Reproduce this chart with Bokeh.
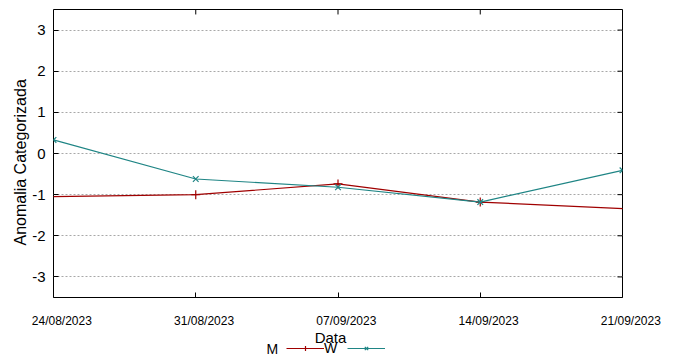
import pandas as pd
from bokeh.plotting import figure
from bokeh.layouts import column
from bokeh.models import (FixedTicker, DatetimeTickFormatter, Range1d, Legend,
                          LegendItem, Label)
from bokeh.embed import file_html
from bokeh.resources import INLINE

# ---- data ----
tick_dates = ["2023-08-24", "2023-08-31", "2023-09-07", "2023-09-14", "2023-09-21"]
m_dates = ["2023-08-17", "2023-08-31", "2023-09-07", "2023-09-14", "2023-09-28"]
m_values = [-1.10, -1.00, -0.74, -1.18, -1.50]
w_dates = ["2023-08-24", "2023-08-31", "2023-09-07", "2023-09-14", "2023-09-21"]
w_values = [0.33, -0.62, -0.82, -1.18, -0.41]
y_ticks = [-3, -2, -1, 0, 1, 2, 3]
y_min, y_max = -3.5, 3.5
series_names = ["M", "W"]
x_title = "Data"
y_title = "Anomalia Categorizada"

RED = "#a00000"
TEAL = "#1f8585"
FONT = "Liberation Sans"

tick_dt = pd.to_datetime(tick_dates)
tick_ms = [int(t.value // 10**6) for t in tick_dt]
x_start, x_end = tick_ms[0], tick_ms[-1]
NB = "\u00a0"
x_overrides = {ms: NB * 5 + d.strftime("%d/%m/%Y") for ms, d in zip(tick_ms, tick_dt)}
y_overrides = {t: str(t) for t in y_ticks}

W = 678
H1, H2 = 330, 29
FL, FR, FT, FB = 53, 56, 9, 31
p = figure(width=W, height=H1, x_axis_type="datetime",
           x_range=Range1d(x_start, x_end), y_range=Range1d(y_min, y_max),
           output_backend="svg", toolbar_location=None,
           min_border_left=FL, min_border_right=FR, min_border_top=FT, min_border_bottom=FB)

p.outline_line_color = "black"
p.outline_line_width = 1
p.background_fill_color = "white"
p.border_fill_color = "white"

xt = FixedTicker(ticks=tick_ms)
yt = FixedTicker(ticks=y_ticks)

xa = p.xaxis[0]
xa.ticker = xt
xa.formatter = DatetimeTickFormatter(days="%d/%m/%Y", months="%d/%m/%Y", hours="%d/%m/%Y")
xa.major_label_overrides = x_overrides
xa.major_tick_in = 5
xa.major_tick_out = 0
xa.minor_tick_line_color = None
xa.axis_line_color = None
xa.major_tick_line_color = "black"
xa.major_label_text_font = FONT
xa.major_label_text_font_size = "12px"
xa.major_label_text_color = "black"
xa.major_label_standoff = 16

ya = p.yaxis[0]
ya.ticker = yt
ya.major_label_overrides = y_overrides
ya.major_tick_in = 5
ya.major_tick_out = 0
ya.minor_tick_line_color = None
ya.axis_line_color = None
ya.major_tick_line_color = "black"
ya.major_label_text_font = FONT
ya.major_label_text_font_size = "15px"
ya.major_label_text_color = "black"
ya.major_label_standoff = 8
ya.axis_label = y_title + NB * 4
ya.axis_label_text_font = FONT
ya.axis_label_text_font_size = "16px"
ya.axis_label_text_font_style = "normal"
ya.axis_label_text_color = "black"
ya.axis_label_standoff = 0

p.xgrid.grid_line_color = None
p.ygrid.ticker = yt
p.ygrid.grid_line_color = "#a8a8a8"
p.ygrid.grid_line_dash = "2 2"
p.ygrid.grid_line_width = 1

# mirrored ticks on top and right border (gnuplot style)
frame_w = W - FL - FR
frame_h = H1 - FT - FB
tick_px = 5
dx = tick_px * (x_end - x_start) / frame_w
dy = tick_px * (y_max - y_min) / frame_h
p.segment(x0=tick_ms, y0=[y_max] * len(tick_ms), x1=tick_ms, y1=[y_max - dy] * len(tick_ms),
          line_color="black", line_width=1)
p.segment(x0=[x_end] * len(y_ticks), y0=y_ticks, x1=[x_end - dx] * len(y_ticks), y1=y_ticks,
          line_color="black", line_width=1)

md = pd.to_datetime(m_dates)
wd = pd.to_datetime(w_dates)
p.line(md, m_values, line_color=RED, line_width=1.2)
p.scatter(md, m_values, marker="cross", size=9, line_color=RED, line_width=1.2)
p.line(wd, w_values, line_color=TEAL, line_width=1.2)
p.scatter(wd, w_values, marker="x", size=8, line_color=TEAL, line_width=1.2)

# ---- bottom row: x title and key (gnuplot style: "M" —+—  "W" —x—) ----
k = figure(width=W, height=H2, x_range=Range1d(0, 1), y_range=Range1d(0, 1),
           output_backend="svg", toolbar_location=None,
           x_axis_location=None, y_axis_location=None,
           min_border_left=0, min_border_right=0, min_border_top=0, min_border_bottom=0)
k.outline_line_color = None
k.xgrid.visible = False
k.ygrid.visible = False
k.background_fill_color = "white"
k.border_fill_color = "white"
# same series, lying outside this row's ranges: only their key glyphs are seen
kr1 = k.line(md, m_values, line_color=RED, line_width=1.2)
kr2 = k.scatter(md, m_values, marker="cross", size=9, line_color=RED, line_width=1.2)
kr3 = k.line(wd, w_values, line_color=TEAL, line_width=1.2)
kr4 = k.scatter(wd, w_values, marker="x", size=8, line_color=TEAL, line_width=1.2)

OFF = 59  # observed left offset of this row's frame
key_y = 11
legend = Legend(items=[LegendItem(label=series_names[1], renderers=[kr1, kr2]),
                       LegendItem(label="", renderers=[kr3, kr4])],
                orientation="horizontal", location=(292 - OFF, key_y - 8),
                glyph_width=38, glyph_height=12, label_standoff=0, label_width=0,
                label_height=12,
                label_text_font=FONT, label_text_font_size="14px", label_text_color="black",
                spacing=10, padding=0, margin=0, border_line_color=None,
                background_fill_alpha=0)
k.add_layout(legend, "center")
k.add_layout(Label(x=272 - OFF, y=key_y, x_units="screen", y_units="screen",
                   text=series_names[0], text_font=FONT, text_font_size="14px",
                   text_baseline="middle", text_align="left", text_color="black"))
k.add_layout(Label(x=336 - OFF, y=22, x_units="screen", y_units="screen",
                   text=x_title, text_font=FONT, text_font_size="15px",
                   text_baseline="middle", text_align="center", text_color="black"))

layout = column(p, k, spacing=0)
open("out.html", "w").write(file_html(layout, INLINE))
